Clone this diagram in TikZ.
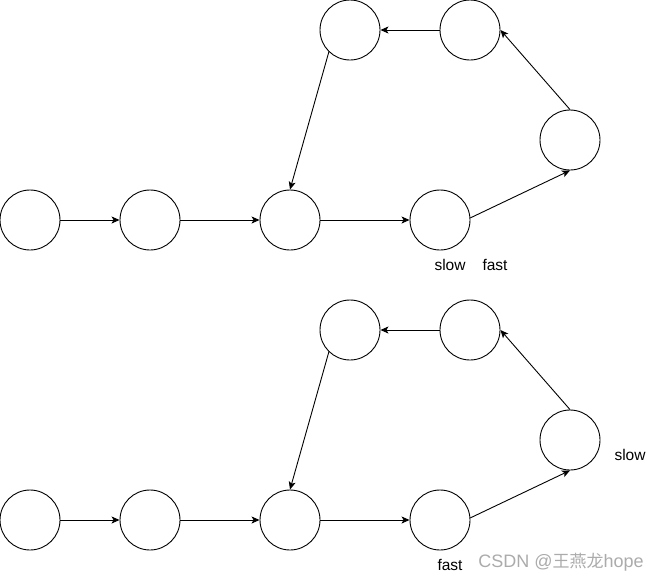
\documentclass[tikz,border=0pt]{standalone}
\usepackage{fontspec}
\setmainfont{Liberation Sans}
\newfontfamily\cjkfont{Noto Sans CJK SC}
\usetikzlibrary{arrows.meta}
\begin{document}
\begin{tikzpicture}[x=1pt,y=-1pt,
  ring/.style={draw, circle, minimum size=60pt, inner sep=0pt, line width=0.9pt},
  link/.style={line width=0.9pt, -{Stealth[length=8pt,width=7pt,inset=2pt]}},
  lbl/.style={font=\fontsize{15.5}{18}\selectfont, inner sep=0pt}]
\useasboundingbox (0,0) rectangle (661,581);
\foreach \o/\p in {0/a,300/b}{
  \node[ring] (\p1) at (30,220+\o) {};
  \node[ring] (\p2) at (150,220+\o) {};
  \node[ring] (\p3) at (290,220+\o) {};
  \node[ring] (\p4) at (440,220+\o) {};
  \node[ring] (\p5) at (570,140+\o) {};
  \node[ring] (\p6) at (470,30+\o) {};
  \node[ring] (\p7) at (350,30+\o) {};
  \draw[link] (\p1) -- (\p2);
  \draw[link] (\p2) -- (\p3);
  \draw[link] (\p3) -- (\p4);
  \draw[link] (\p4.4) -- (\p5.south);
  \draw[link] (\p5.north) -- (\p6.east);
  \draw[link] (\p6) -- (\p7);
  \draw[link] (\p7.226) -- (\p3.north);
}
\node[lbl] (s1) at (450,265) {slow};
\node[lbl] (f1) at (495,265) {fast};
\node[lbl] (s2) at (630,455) {slow};
\node[lbl] (f2) at (450,565) {fast};
\node[lbl, font=\fontsize{18}{20}\selectfont, text=black!33] (wm) at (561,562) {CSDN @{\cjkfont\fontsize{17}{20}\selectfont 王燕龙}hope};
\end{tikzpicture}
\end{document}
